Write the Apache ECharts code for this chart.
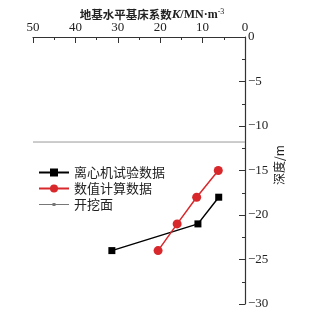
<!DOCTYPE html>
<html><head><meta charset="utf-8">
<script src="https://cdn.jsdelivr.net/npm/echarts@6/dist/echarts.min.js"></script>
<style>html,body{margin:0;padding:0;background:#fff}#c{width:319px;height:316px}</style>
</head><body><div id="c"></div>
<script>
const xTicks = [0, 10, 20, 30, 40, 50];
const yTicks = [0, -5, -10, -15, -20, -25, -30];
const seriesNames = ['离心机试验数据', '数值计算数据', '开挖面'];
const centrifugeK = [31.4, 11.1, 6.2];
const centrifugeDepth = [-24, -21, -18];
const numericK = [20.5, 16, 11.4, 6.3];
const numericDepth = [-24, -21, -18, -15];
const excavationK = [0, 50];
const excavationDepth = [-11.8, -11.8];

const zip = (a, b) => a.map((v, i) => [v, b[i]]);
const serif = '"Liberation Serif","DejaVu Serif","Noto Sans CJK SC",serif';
const cjk = '"Noto Sans CJK SC",serif';

const chart = echarts.init(document.getElementById('c'));
chart.setOption({
  animation: false,
  backgroundColor: '#fff',
  grid: {left: 33, right: 74, top: 37, bottom: 12, outerBoundsMode: 'none', containLabel: false},
  legend: {
    left: 33, top: 161, orient: 'vertical', itemGap: 3,
    itemWidth: 30, itemHeight: 10,
    textStyle: {fontFamily: cjk, fontSize: 13, color: '#222'},
    data: [
      {name: seriesNames[0]},
      {name: seriesNames[1]},
      {name: seriesNames[2], icon: 'path://M0,4.5 L30,4.5 L30,5.5 L0,5.5 Z M13.5,3.5 L16.5,3.5 L16.5,6.5 L13.5,6.5 Z',
       itemStyle: {color: '#777'}}
    ]
  },
  graphic: [{
    type: 'text', x: 279, y: 165, rotation: Math.PI / 2,
    style: {text: '深度/m', font: '12px "Noto Sans CJK SC"', fill: '#222', align: 'center', verticalAlign: 'middle'}
  }, {
    type: 'text', x: 152, y: 15,
    style: {
      text: '{a|地基水平基床系数}{k|K}{b|/MN·m}{s|-3}',
      align: 'center', verticalAlign: 'middle',
      rich: {
        a: {fontFamily: cjk, fontSize: 11.5, fontWeight: 'bold', fill: '#222'},
        k: {fontFamily: serif, fontSize: 13, fontWeight: 'bold', fontStyle: 'italic', fill: '#222'},
        b: {fontFamily: serif, fontSize: 12, fontWeight: 'bold', fill: '#222'},
        s: {fontFamily: serif, fontSize: 8, verticalAlign: 'top', padding: [0,0,6,0], fill: '#222'}
      }
    }
  }],
  xAxis: {
    type: 'value', position: 'top', inverse: true, min: 0, max: 50, interval: 10,
    axisLine: {onZero: false, lineStyle: {color: '#333', width: 1.2}},
    axisTick: {inside: true, length: 6, lineStyle: {color: '#333'}},
    minorTick: {show: true, splitNumber: 2, length: 3, lineStyle: {color: '#333'}},
    axisLabel: {fontFamily: serif, fontSize: 13, color: '#222', margin: 3},
    splitLine: {show: false}
  },
  yAxis: {
    type: 'value', position: 'right', min: -30, max: 0, interval: 5,
    axisLine: {onZero: false, lineStyle: {color: '#333', width: 1.2}},
    axisTick: {inside: true, length: 6, lineStyle: {color: '#333'}},
    minorTick: {show: true, splitNumber: 2, length: 3, lineStyle: {color: '#333'}},
    axisLabel: {fontFamily: serif, fontSize: 13, color: '#222', margin: 3,
      formatter: v => String(v).replace('-', '−')},
    splitLine: {show: false}
  },
  series: [
    {name: seriesNames[0], type: 'line', data: zip(centrifugeK, centrifugeDepth),
     symbol: 'rect', symbolSize: 7, color: '#000', lineStyle: {width: 1.5, color: '#000'},
     itemStyle: {color: '#000'}},
    {name: seriesNames[1], type: 'line', data: zip(numericK, numericDepth),
     symbol: 'circle', symbolSize: 9, color: '#d8282b', lineStyle: {width: 1.5, color: '#d8282b'},
     itemStyle: {color: '#d8282b'}},
    {name: seriesNames[2], type: 'line', data: zip(excavationK, excavationDepth),
     symbol: 'circle', symbolSize: 3, showSymbol: false, color: '#888',
     lineStyle: {width: 1, color: '#999'}, itemStyle: {color: '#777'}}
  ]
});
</script></body></html>
